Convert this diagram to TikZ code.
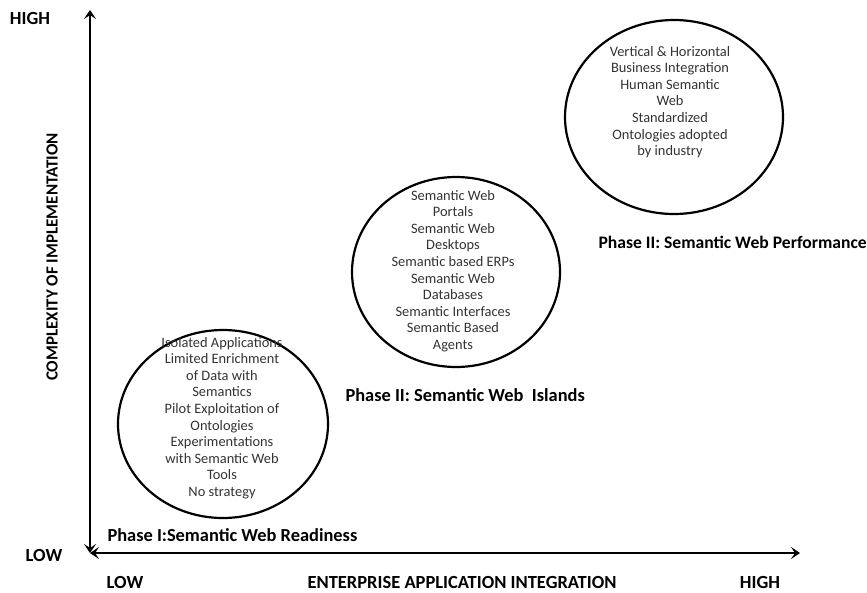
\documentclass[tikz,border=0pt]{standalone}
\usepackage{fontspec}
\setmainfont{Carlito}
\usetikzlibrary{shapes.geometric,arrows.meta}
\begin{document}
\begin{tikzpicture}[x=1pt,y=-1pt,
  axis/.style={line width=2.6pt,{Stealth[length=9pt,width=12pt,inset=4pt]}-{Stealth[length=9pt,width=12pt,inset=4pt]}},
  items/.style={align=center,font=\fontsize{14.4}{16.6}\selectfont,text=black!80},
  plabel/.style={font=\bfseries\fontsize{18.4}{20}\selectfont,anchor=west},
  alabel/.style={font=\bfseries\fontsize{18.5}{20}\selectfont}]
\useasboundingbox (0,0) rectangle (867,592);

% axes
\coordinate (origin) at (90,553);
\coordinate (ytop) at (90,10);
\coordinate (xend) at (800,553);
\draw[axis] (origin) -- (ytop);
\draw[axis] (origin) -- (xend);

% axis labels
\node[alabel] (yhigh) at (30,18) {HIGH};
\node[alabel] (ylow) at (44,555) {LOW};
\node[alabel,font=\bfseries\fontsize{17}{19}\selectfont,rotate=90] (ytitle) at (52,257) {COMPLEXITY OF IMPLEMENTATION};
\node[alabel] (xlow) at (125,582) {LOW};
\node[alabel] (xtitle) at (462,582) {ENTERPRISE APPLICATION INTEGRATION};
\node[alabel] (xhigh) at (760,582) {HIGH};

% phase circles
\draw[line width=2.2pt] (223,424) ellipse [x radius=105, y radius=94];
\draw[line width=2.2pt] (456,272) ellipse [x radius=104, y radius=95];
\draw[line width=2.2pt] (674,117) ellipse [x radius=109, y radius=97];

\node[items] (p1) at (222,418) {Isolated Applications\\Limited Enrichment\\of Data with\\Semantics\\Pilot Exploitation of\\Ontologies\\Experimentations\\with Semantic Web\\Tools\\No strategy};
\node[items] (p2) at (453,271) {Semantic Web\\Portals\\Semantic Web\\Desktops\\Semantic based ERPs\\Semantic Web\\Databases\\Semantic Interfaces\\Semantic Based\\Agents};
\node[items] (p3) at (670,102) {Vertical \& Horizontal\\Business Integration\\Human Semantic\\Web\\Standardized\\Ontologies adopted\\by industry};

% phase titles
\node[plabel] (t1) at (104,535) {Phase I:Semantic Web Readiness};
\node[plabel] (t2) at (342,395) {Phase II: Semantic Web\ \ Islands};
\node[plabel,font=\bfseries\fontsize{17.6}{20}\selectfont] (t3) at (595,242) {Phase II: Semantic Web Performance};
\end{tikzpicture}
\end{document}
